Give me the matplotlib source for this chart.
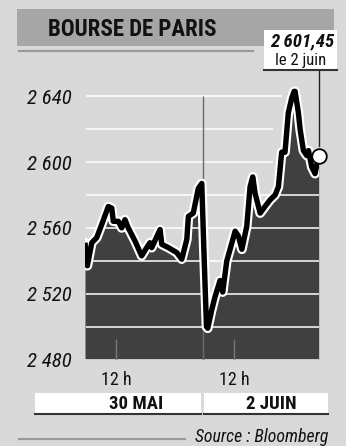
import matplotlib
matplotlib.use("Agg")
import matplotlib.pyplot as plt
from matplotlib.patches import Rectangle
from matplotlib.lines import Line2D

plt.rcParams['font.family'] = ['Roboto Condensed', 'Archivo Narrow', 'PT Sans Narrow',
                               'Liberation Sans Narrow', 'DejaVu Sans']

# ---- data (time in trading hours from 10:00 on 30 May; 2 June starts at 7.5) ----
times = [0.00, 0.15, 0.43, 0.74, 1.06, 1.48, 1.70, 1.80, 2.12, 2.33, 2.54, 2.75,
         3.18, 3.60, 3.92, 4.13, 4.24, 4.77, 4.88, 5.30, 5.83, 6.15, 6.47, 6.57,
         6.88, 7.20, 7.42, 7.56, 7.72, 7.80, 8.05, 8.26, 8.58, 8.75, 9.01, 9.22,
         9.54, 9.75, 9.97, 10.28, 10.49, 10.66, 10.81, 11.13, 11.44, 11.76, 12.08,
         12.29, 12.50, 12.71, 12.92, 13.14, 13.29, 13.35, 13.56, 13.67, 13.88,
         14.09, 14.20, 14.41, 14.62, 14.85]
values = [2551, 2537, 2551, 2554, 2562, 2573, 2572, 2564, 2564, 2560, 2565, 2560,
          2552, 2543, 2548, 2551, 2548, 2559, 2550, 2548, 2545, 2541, 2553, 2567,
          2569, 2584, 2587, 2545, 2500, 2499, 2510, 2518, 2528, 2521, 2540, 2547,
          2558, 2555, 2547, 2561, 2585, 2591, 2581, 2569, 2573, 2577, 2580,
          2585, 2606, 2606, 2630, 2639, 2643, 2643, 2630, 2620, 2607, 2604,
          2607, 2597, 2593, 2604]

y_ticks = [2480, 2520, 2560, 2600, 2640]
y_tick_labels = ["2 480", "2 520", "2 560", "2 600", "2 640"]
grid_levels = [2500, 2520, 2540, 2560, 2580, 2600, 2620, 2640]
noon_positions = [2.0, 9.5]
noon_labels = ["12 h", "12 h"]
day_break = 7.5
day_labels = ["30 MAI", "2 JUIN"]
title = "BOURSE DE PARIS"
last_value_label = "2 601,45"
last_date_label = "le 2 juin"
source = "Source : Bloomberg"

# ---- style ----
W, H = 346, 446
BG = '#d9d9d9'
BAR = '#a6a6a6'
FILL = '#404040'

fig = plt.figure(figsize=(W / 100, H / 100), dpi=100, facecolor=BG)

def fx(px):
    return px / W

def fy(py):
    return 1 - py / H

ax_left, ax_right, ax_bottom, ax_top = 85, 319, 359.5, 79.85
ax = fig.add_axes([fx(ax_left), fy(ax_bottom), (ax_right - ax_left) / W,
                   (ax_bottom - ax_top) / H])
ax.set_facecolor('none')
for s in ax.spines.values():
    s.set_visible(False)
xmax = 14.87
ax.set_xlim(0, xmax)
ax.set_ylim(2480, 2650)

ax.fill_between(times, values, 2480, color=FILL, lw=0, zorder=1)

grid_end = {2640: 12.52, 2620: 11.95, 2600: 11.95}
for lv in grid_levels:
    ax.hlines(lv, 0.05, grid_end.get(lv, xmax), color='white', lw=1.1, zorder=2)
ax.hlines(2480, 0, xmax, color='#e6e6e6', lw=1.2, zorder=2)

# day separator and noon ticks
ax.vlines(day_break, 2480, 2640, color='#6a6a6a', lw=1.0, zorder=2)
ax.vlines(noon_positions, 2480, 2492.5, color='#7a7a7a', lw=1.0, zorder=2)

ax.plot(times, values, color='white', lw=7.0, solid_joinstyle='round',
        solid_capstyle='round', zorder=3)
ax.plot(times, values, color='black', lw=3.9, solid_joinstyle='round',
        solid_capstyle='butt', zorder=4)

# last-value marker and leader line
ax.plot([times[-1]], [values[-1]], marker='o', ms=10.5, mfc='white', mec='black',
        mew=1.3, zorder=6, clip_on=False)
fig.add_artist(Line2D([fx(318.5), fx(318.5)], [fy(70), fy(146)], color='#222222', lw=1.0))

ax.set_yticks(y_ticks)
ax.set_yticklabels(y_tick_labels, fontsize=15, fontstyle='italic', color='#111111')
ax.tick_params(axis='y', length=0, pad=9.4)
ax.set_xticks(noon_positions)
ax.set_xticklabels(noon_labels, fontsize=13, color='#111111')
ax.tick_params(axis='x', length=0, pad=8)

# title bar
fig.add_artist(Rectangle((fx(17), fy(45.5)), (334 - 17) / W, (45.5 - 9.3) / H,
                         facecolor=BAR, edgecolor='none'))
fig.text(fx(48), fy(29), title, fontsize=16.5, fontweight='bold', color='#111111',
         ha='left', va='center')
fig.add_artist(Line2D([fx(19), fx(253)], [fy(50.5), fy(50.5)], color='#9a9a9a', lw=1.6))

# last value box
fig.add_artist(Rectangle((fx(264), fy(70)), (337 - 264) / W, (70 - 30) / H,
                         facecolor='white', edgecolor='none'))
fig.add_artist(Line2D([fx(264), fx(337)], [fy(69.5), fy(69.5)], color='#333333', lw=1.5))
fig.text(fx(302), fy(41), last_value_label, fontsize=13.5, fontweight='bold',
         fontstyle='italic', color='#111111', ha='center', va='center')
fig.text(fx(301), fy(60.5), last_date_label, fontsize=12, color='#111111',
         ha='center', va='center')

# date bar
boxes = [(35, 201), (203.5, 328)]
centers = [136, 271]
for (x0, x1), c, lab in zip(boxes, centers, day_labels):
    fig.add_artist(Rectangle((fx(x0), fy(414)), (x1 - x0) / W, (414 - 393) / H,
                             facecolor='white', edgecolor='none'))
    fig.add_artist(Line2D([fx(x0), fx(x1)], [fy(413.5), fy(413.5)], color='#333333', lw=1.5))
    fig.text(fx(c), fy(404), lab, fontsize=13.5, fontweight='bold', color='#111111',
             ha='center', va='center')

# source
fig.add_artist(Line2D([fx(19), fx(185)], [fy(439), fy(439)], color='#9a9a9a', lw=1.6))
fig.text(fx(328), fy(436.5), source, fontsize=12.8, fontstyle='italic', color='#111111',
         ha='right', va='center')

fig.savefig('out.png', dpi=100, facecolor=BG)
